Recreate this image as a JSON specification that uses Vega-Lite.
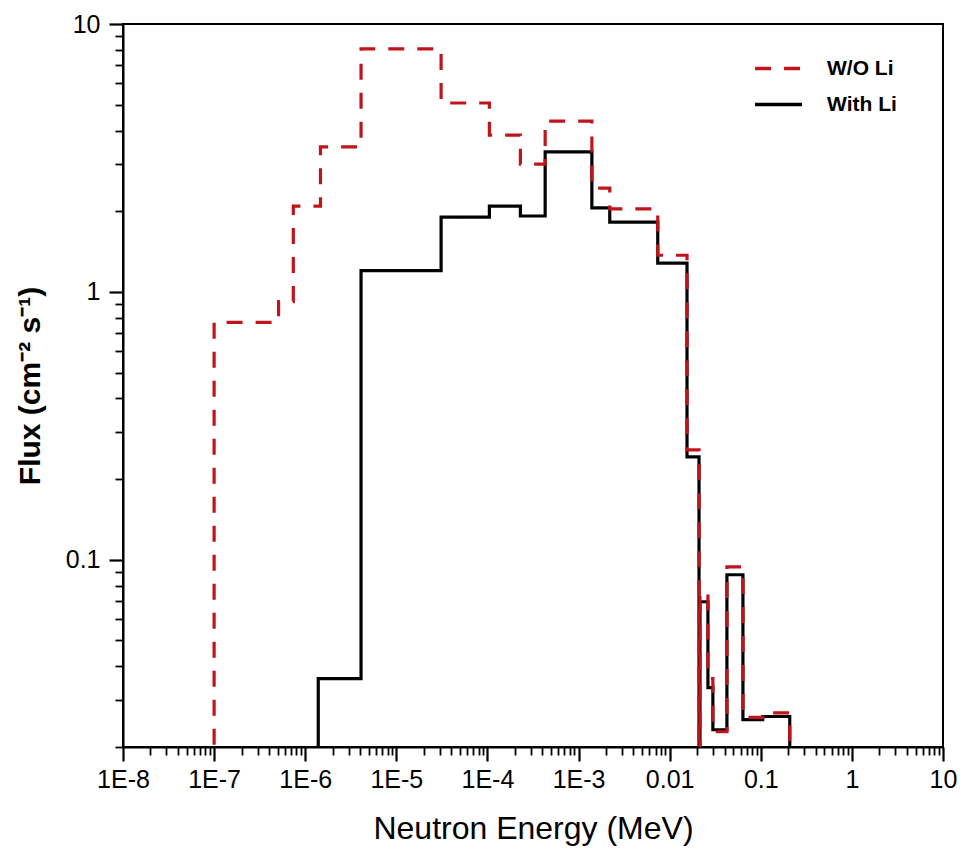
{
  "$schema": "https://vega.github.io/schema/vega-lite/v6.json",
  "width": 820,
  "height": 723,
  "autosize": {"type": "none"},
  "padding": {"left": 123, "top": 24, "right": 17, "bottom": 110},
  "background": "white",
  "config": {
    "view": {"stroke": "black", "strokeWidth": 2},
    "font": "Liberation Sans",
    "axis": {
      "grid": false,
      "domainColor": "black",
      "domainWidth": 2,
      "tickColor": "black",
      "labelColor": "black",
      "titleColor": "black",
      "labelFont": "Liberation Sans",
      "titleFont": "Liberation Sans",
      "labelFontSize": 25,
      "labelOverlap": false,
      "labelBound": false,
      "labelFlush": false
    }
  },
  "datasets": {
    "flux": [
      {"energy": 9.0e-8, "flux": 0.01, "series": "W/O Li"},
      {"energy": 1.0e-7, "flux": 0.77, "series": "W/O Li"},
      {"energy": 5.1e-7, "flux": 0.92, "series": "W/O Li"},
      {"energy": 7.4e-7, "flux": 2.09, "series": "W/O Li"},
      {"energy": 1.47e-6, "flux": 3.48, "series": "W/O Li"},
      {"energy": 4.1e-6, "flux": 8.07, "series": "W/O Li"},
      {"energy": 3.1e-5, "flux": 5.07, "series": "W/O Li"},
      {"energy": 1.05e-4, "flux": 3.85, "series": "W/O Li"},
      {"energy": 2.3e-4, "flux": 3.0, "series": "W/O Li"},
      {"energy": 4.3e-4, "flux": 4.34, "series": "W/O Li"},
      {"energy": 1.4e-3, "flux": 2.44, "series": "W/O Li"},
      {"energy": 2.2e-3, "flux": 2.04, "series": "W/O Li"},
      {"energy": 7.4e-3, "flux": 1.37, "series": "W/O Li"},
      {"energy": 0.0155, "flux": 0.257, "series": "W/O Li"},
      {"energy": 0.021, "flux": 0.01, "series": "W/O Li"},
      {"energy": 0.0215, "flux": 0.0753, "series": "W/O Li"},
      {"energy": 0.0263, "flux": 0.036, "series": "W/O Li"},
      {"energy": 0.0298, "flux": 0.0228, "series": "W/O Li"},
      {"energy": 0.0425, "flux": 0.094, "series": "W/O Li"},
      {"energy": 0.0637, "flux": 0.0258, "series": "W/O Li"},
      {"energy": 0.105, "flux": 0.0268, "series": "W/O Li"},
      {"energy": 0.208, "flux": 0.01, "series": "W/O Li"},
      {"energy": 1.3e-6, "flux": 0.01, "series": "With Li"},
      {"energy": 1.39e-6, "flux": 0.036, "series": "With Li"},
      {"energy": 4.1e-6, "flux": 1.2, "series": "With Li"},
      {"energy": 3.1e-5, "flux": 1.9, "series": "With Li"},
      {"energy": 1.05e-4, "flux": 2.09, "series": "With Li"},
      {"energy": 2.3e-4, "flux": 1.92, "series": "With Li"},
      {"energy": 4.3e-4, "flux": 3.33, "series": "With Li"},
      {"energy": 1.4e-3, "flux": 2.06, "series": "With Li"},
      {"energy": 2.2e-3, "flux": 1.82, "series": "With Li"},
      {"energy": 7.4e-3, "flux": 1.28, "series": "With Li"},
      {"energy": 0.0155, "flux": 0.242, "series": "With Li"},
      {"energy": 0.021, "flux": 0.01, "series": "With Li"},
      {"energy": 0.0215, "flux": 0.0697, "series": "With Li"},
      {"energy": 0.0263, "flux": 0.0333, "series": "With Li"},
      {"energy": 0.0298, "flux": 0.0232, "series": "With Li"},
      {"energy": 0.0425, "flux": 0.0879, "series": "With Li"},
      {"energy": 0.0637, "flux": 0.0253, "series": "With Li"},
      {"energy": 0.105, "flux": 0.026, "series": "With Li"},
      {"energy": 0.208, "flux": 0.01, "series": "With Li"}
    ]
  },
  "data": {"name": "flux"},
  "encoding": {
    "x": {
      "field": "energy",
      "type": "quantitative",
      "scale": {"type": "log", "domain": [1e-8, 10], "nice": false},
      "axis": {
        "title": "Neutron Energy (MeV)",
        "titleFontSize": 32,
        "titleFontWeight": "normal",
        "titlePadding": 21,
        "labelPadding": 6,
        "values": [1e-8,2e-8,3e-8,4e-8,5e-8,6e-8,7e-8,8e-8,9e-8,
                   1e-7,2e-7,3e-7,4e-7,5e-7,6e-7,7e-7,8e-7,9e-7,
                   1e-6,2e-6,3e-6,4e-6,5e-6,6e-6,7e-6,8e-6,9e-6,
                   1e-5,2e-5,3e-5,4e-5,5e-5,6e-5,7e-5,8e-5,9e-5,
                   1e-4,2e-4,3e-4,4e-4,5e-4,6e-4,7e-4,8e-4,9e-4,
                   1e-3,2e-3,3e-3,4e-3,5e-3,6e-3,7e-3,8e-3,9e-3,
                   0.01,0.02,0.03,0.04,0.05,0.06,0.07,0.08,0.09,
                   0.1,0.2,0.3,0.4,0.5,0.6,0.7,0.8,0.9,
                   1,2,3,4,5,6,7,8,9,10],
        "labelExpr": "abs(datum.value/pow(10,round(log(datum.value)/LN10))-1)<1e-6 ? (datum.value < 0.005 ? '1E' + round(log(datum.value)/LN10) : format(datum.value, '')) : ''",
        "tickSize": {"condition": {"test": "abs(datum.value/pow(10,round(log(datum.value)/LN10))-1)<1e-6", "value": 14}, "value": 8},
        "tickWidth": {"condition": {"test": "abs(datum.value/pow(10,round(log(datum.value)/LN10))-1)<1e-6", "value": 2.2}, "value": 1.8}
      }
    },
    "y": {
      "field": "flux",
      "type": "quantitative",
      "scale": {"type": "log", "domain": [0.02, 10], "nice": false},
      "axis": {
        "title": "Flux (cm⁻² s⁻¹)",
        "titleFontSize": 30,
        "titleFontWeight": "bold",
        "titlePadding": 20,
        "labelPadding": 9,
        "values": [0.02,0.03,0.04,0.05,0.06,0.07,0.08,0.09,
                   0.1,0.2,0.3,0.4,0.5,0.6,0.7,0.8,0.9,
                   1,2,3,4,5,6,7,8,9,10],
        "labelExpr": "abs(datum.value/pow(10,round(log(datum.value)/LN10))-1)<1e-6 ? format(datum.value, '') : ''",
        "tickSize": {"condition": {"test": "abs(datum.value/pow(10,round(log(datum.value)/LN10))-1)<1e-6", "value": 14}, "value": 8},
        "tickWidth": {"condition": {"test": "abs(datum.value/pow(10,round(log(datum.value)/LN10))-1)<1e-6", "value": 2.2}, "value": 1.8}
      }
    },
    "color": {
      "field": "series",
      "type": "nominal",
      "scale": {"domain": ["W/O Li", "With Li"], "range": ["#c0141b", "#000000"]},
      "legend": {
        "title": null,
        "orient": "none",
        "legendX": 630,
        "legendY": 19,
        "symbolType": "stroke",
        "symbolSize": 2200,
        "symbolStrokeWidth": 3.5,
        "labelFont": "Liberation Sans",
        "labelFontSize": 21,
        "labelFontWeight": "bold",
        "labelColor": "black",
        "labelOffset": 23,
        "rowPadding": -24
      }
    },
    "strokeDash": {
      "field": "series",
      "type": "nominal",
      "scale": {"domain": ["W/O Li", "With Li"], "range": [[16, 13], [1, 0]]},
      "legend": null
    }
  },
  "layer": [
    {
      "transform": [{"filter": "datum.series === 'With Li'"}],
      "mark": {"type": "line", "interpolate": "step-after", "strokeWidth": 3.2, "clip": true}
    },
    {
      "transform": [{"filter": "datum.series === 'W/O Li'"}],
      "mark": {"type": "line", "interpolate": "step-after", "strokeWidth": 3.2, "clip": true}
    }
  ]
}
